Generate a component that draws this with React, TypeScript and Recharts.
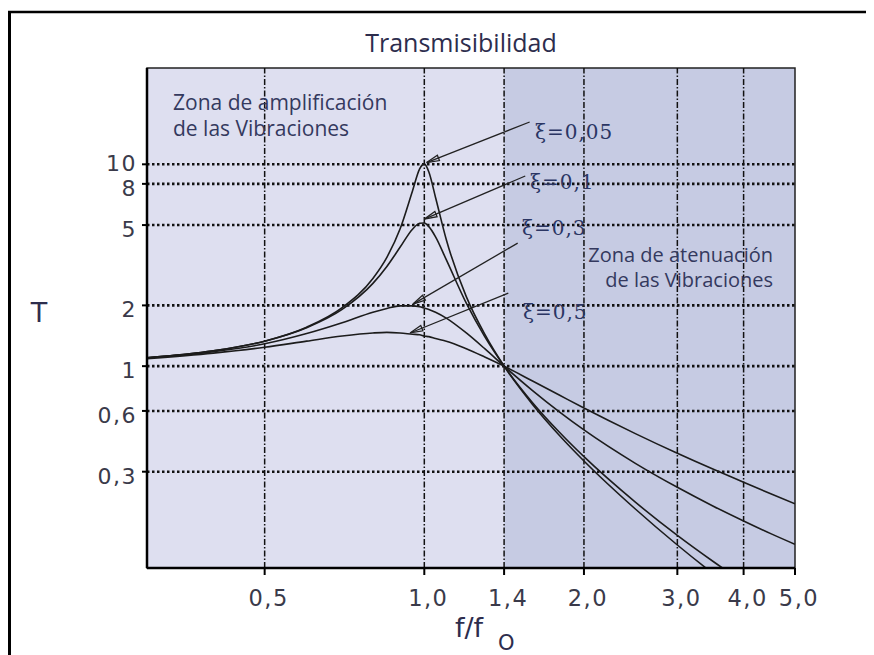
import React from 'react';
import {
  LineChart,
  Line,
  XAxis,
  YAxis,
  ReferenceArea,
  ReferenceLine,
} from 'recharts';

// frequency ratio f/fo and transmissibility
const ratio = [0.3, 0.4, 0.5, 0.6, 0.7, 0.8, 0.85, 0.9, 0.95, 0.98, 1.0, 1.02, 1.05, 1.1, 1.2, 1.3, 1.414, 1.6, 1.8, 2.0, 2.5, 3.0, 3.5, 4.0, 4.5, 5.0];
const zeta005 = [1.1, 1.19, 1.33, 1.56, 1.95, 2.72, 3.46, 4.78, 7.38, 9.5, 10.05, 9.16, 6.85, 4.24, 2.21, 1.44, 1.0, 0.646, 0.452, 0.339, 0.196, 0.13, 0.094, 0.072, 0.057, 0.047];
const zeta01 = [1.1, 1.19, 1.33, 1.55, 1.91, 2.57, 3.12, 3.88, 4.77, 5.1, 5.12, 4.91, 4.37, 3.37, 2.05, 1.4, 1.0, 0.659, 0.469, 0.356, 0.212, 0.145, 0.108, 0.085, 0.07, 0.059];
const zeta03 = [1.1, 1.18, 1.29, 1.45, 1.64, 1.85, 1.93, 1.99, 1.99, 1.97, 1.94, 1.91, 1.85, 1.73, 1.46, 1.22, 1.0, 0.757, 0.592, 0.483, 0.33, 0.251, 0.203, 0.171, 0.148, 0.131];
const zeta05 = [1.09, 1.16, 1.24, 1.33, 1.41, 1.46, 1.47, 1.46, 1.44, 1.43, 1.41, 1.4, 1.37, 1.33, 1.22, 1.11, 1.0, 0.844, 0.717, 0.62, 0.463, 0.37, 0.309, 0.266, 0.233, 0.208];

const xTicks = [0.5, 1, 1.414, 2, 3, 4, 5];
const xTickLabels = ['0,5', '1,0', '1,4', '2,0', '3,0', '4,0', '5,0'];
const yTicks = [0.3, 0.6, 1, 2, 5, 8, 10];
const yTickLabels = ['0,3', '0,6', '1', '2', '5', '8', '10'];
const xGrid = [0.5, 1, 1.414, 2, 3, 4];

// arrows: start near the label, tip on the curve
const arrowFrom = [[1.58, 16.2], [1.55, 8.75], [1.5, 4.07], [1.44, 2.3]];
const arrowTo = [[1.01, 10.2], [1.0, 5.35], [0.952, 2.03], [0.94, 1.46]];

const data = ratio.map((r, i) => ({
  r,
  z005: zeta005[i],
  z01: zeta01[i],
  z03: zeta03[i],
  z05: zeta05[i],
}));

const textColor = '#34395e';

const XTick = (props: any) => {
  const { x, y, payload } = props;
  const i = xTicks.indexOf(payload.value);
  return (
    <text x={x + 4} y={y + 29} textAnchor="middle" fontFamily="DejaVu Sans" fontSize={22.5} letterSpacing={1.5} fill="#3a3a4a">
      {xTickLabels[i]}
    </text>
  );
};

const YTick = (props: any) => {
  const { x, y, payload } = props;
  const i = yTicks.indexOf(payload.value);
  // the top label sits level with its line, the others a little lower
  const dy = payload.value === 10 ? 7 : 12;
  return (
    <text x={x} y={y + dy} textAnchor="end" fontFamily="DejaVu Sans" fontSize={22} letterSpacing={1.5} fill="#3a3a4a">
      {yTickLabels[i]}
    </text>
  );
};

const Arrow = (props: any) => {
  const { x1, y1, x2, y2 } = props;
  const ang = Math.atan2(y1 - y2, x1 - x2);
  const len = 13;
  const spread = 0.22;
  const ax = x2 + len * Math.cos(ang + spread);
  const ay = y2 + len * Math.sin(ang + spread);
  const bx = x2 + len * Math.cos(ang - spread);
  const by = y2 + len * Math.sin(ang - spread);
  return (
    <g>
      <line x1={x1} y1={y1} x2={x2} y2={y2} stroke="#222" strokeWidth={1.3} />
      <polygon points={`${x2},${y2} ${ax},${ay} ${bx},${by}`} fill="none" stroke="#222" strokeWidth={1.3} />
    </g>
  );
};

export default function App() {
  return (
    <div style={{ position: 'relative', width: 866, height: 647 }}>
      <LineChart width={866} height={647} data={data} margin={{ top: 60, right: 79, bottom: 0, left: 0 }}>
        <XAxis
          dataKey="r"
          type="number"
          scale="log"
          domain={[0.3, 5]}
          ticks={xTicks}
          interval={0}
          allowDataOverflow
          height={87}
          tickSize={7}
          tick={<XTick />}
          axisLine={{ stroke: '#000', strokeWidth: 2.5 }}
          tickLine={{ stroke: '#000', strokeWidth: 2 }}
        />
        <YAxis
          type="number"
          scale="log"
          domain={[0.1, 30]}
          ticks={yTicks}
          interval={0}
          allowDataOverflow
          width={139}
          tickSize={5}
          tickMargin={5}
          tick={<YTick />}
          axisLine={{ stroke: '#000', strokeWidth: 2.5 }}
          tickLine={{ stroke: '#000', strokeWidth: 2 }}
        />
        <ReferenceArea x1={0.3} x2={1.414} y1={0.1} y2={30} fill="#dedff0" fillOpacity={1} stroke="none" />
        <ReferenceArea x1={1.414} x2={5} y1={0.1} y2={30} fill="#c6cbe3" fillOpacity={1} stroke="none" />
        <ReferenceArea x1={0.3} x2={5} y1={0.1} y2={30} fill="none" stroke="#222" strokeWidth={1.5} />
        {yTicks.map((v) => (
          <ReferenceLine key={'h' + v} y={v} stroke="#111" strokeWidth={2.6} strokeDasharray="2.5 2.5" />
        ))}
        {xGrid.map((v) => (
          <ReferenceLine key={'v' + v} x={v} stroke="#111" strokeWidth={1.5} strokeDasharray="6 2 1.5 2" />
        ))}
        <Line dataKey="z005" type="monotone" stroke="#1c1c1c" strokeWidth={1.6} dot={false} isAnimationActive={false} />
        <Line dataKey="z01" type="monotone" stroke="#1c1c1c" strokeWidth={1.6} dot={false} isAnimationActive={false} />
        <Line dataKey="z03" type="monotone" stroke="#1c1c1c" strokeWidth={1.6} dot={false} isAnimationActive={false} />
        <Line dataKey="z05" type="monotone" stroke="#1c1c1c" strokeWidth={1.6} dot={false} isAnimationActive={false} />
        {arrowFrom.map((p, i) => (
          <ReferenceLine
            key={'a' + i}
            segment={[{ x: p[0], y: p[1] }, { x: arrowTo[i][0], y: arrowTo[i][1] }]}
            shape={(sp: any) => <Arrow {...sp} />}
          />
        ))}
      </LineChart>
      <svg width={866} height={647} style={{ position: 'absolute', left: 0, top: 0, pointerEvents: 'none' }}>
        <line x1={1.5} y1={3} x2={1.5} y2={647} stroke="#000" strokeWidth={3} />
        <line x1={0} y1={4} x2={866} y2={4} stroke="#000" strokeWidth={2.5} />
        <text x={453} y={44} textAnchor="middle" fontFamily="Open Sans" fontSize={25} fill="#2d2d4d">
          Transmisibilidad
        </text>
        <text fontFamily="Open Sans" fontSize={21} fill={textColor}>
          <tspan x={165} y={102}>Zona de amplificación</tspan>
          <tspan x={165} y={128}>de las Vibraciones</tspan>
        </text>
        <text fontFamily="Open Sans" fontSize={20} fill={textColor} textAnchor="end">
          <tspan x={765} y={254}>Zona de atenuación</tspan>
          <tspan x={765} y={279}>de las Vibraciones</tspan>
        </text>
        <g fontFamily="DejaVu Serif" fontSize={20} fill="#2a3563" letterSpacing={1}>
          <text x={527} y={131}>ξ=0,05</text>
          <text x={522} y={181}>ξ=0,1</text>
          <text x={514} y={227}>ξ=0,3</text>
          <text x={515} y={311}>ξ=0,5</text>
        </g>
        <text x={31} y={314} textAnchor="middle" fontFamily="DejaVu Sans" fontSize={27} fill="#2d2d4d">
          T
        </text>
        <text x={447} y={629} fontFamily="DejaVu Sans" fontSize={27} fill="#2d2d4d">
          f/f
        </text>
        <text x={490} y={642} fontFamily="DejaVu Sans" fontSize={21} fill="#2d2d4d">
          O
        </text>
      </svg>
    </div>
  );
}
